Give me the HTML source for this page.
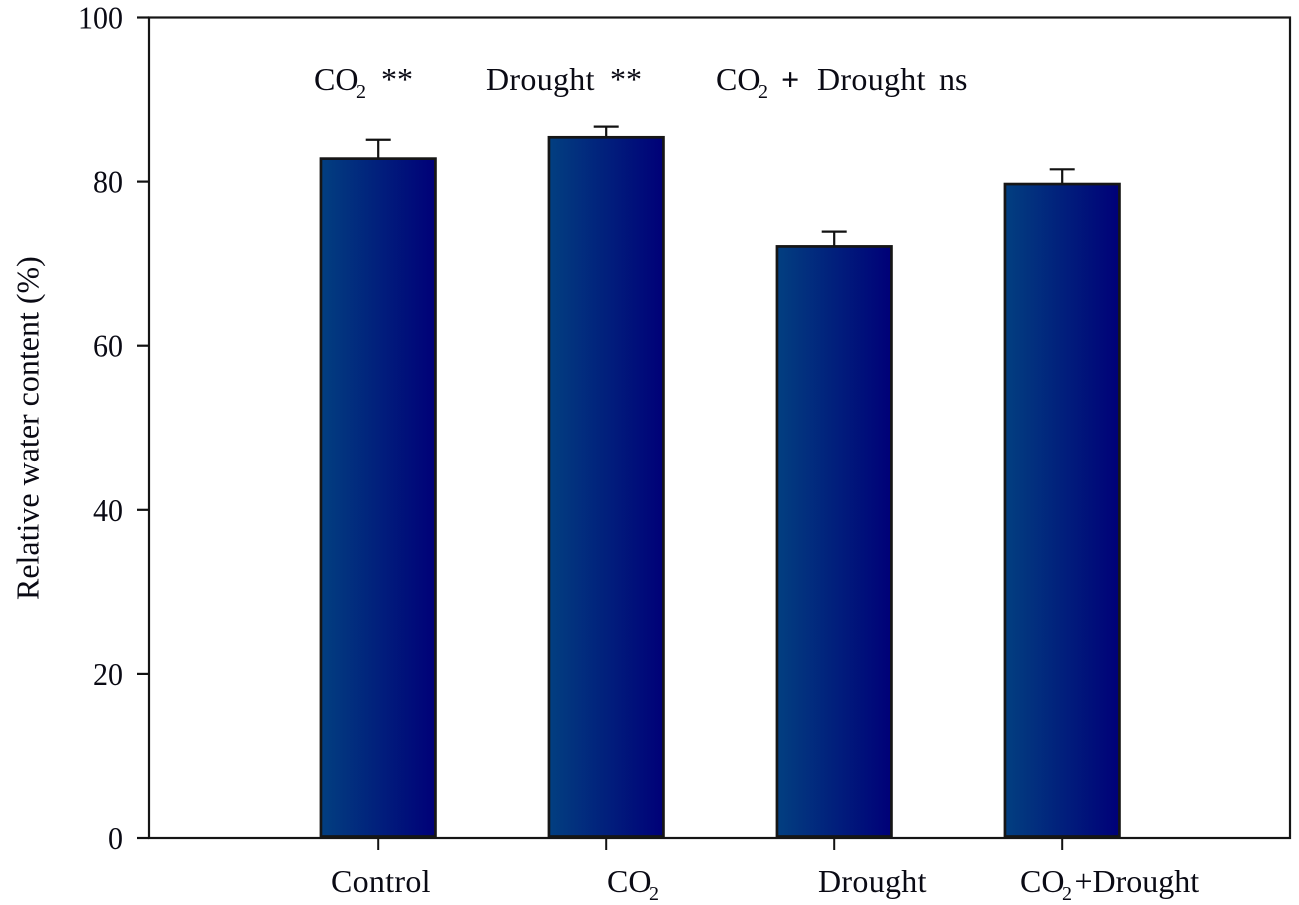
<!DOCTYPE html>
<html>
<head>
<meta charset="utf-8">
<title>Relative water content</title>
<style>
html,body{margin:0;padding:0;background:#fff;}
svg{display:block;}
text{font-family:"Liberation Serif",serif;fill:#0a0a14;}
</style>
</head>
<body>
<svg id="chart" xmlns="http://www.w3.org/2000/svg" width="1299" height="905" viewBox="0 0 1299 905">
  <defs>
    <linearGradient id="barGrad" x1="0" y1="0" x2="1" y2="0">
      <stop offset="0" stop-color="#023f80"/>
      <stop offset="1" stop-color="#000078"/>
    </linearGradient>
  </defs>
  <g id="marks"></g>
  <g id="axes"></g>
  <text transform="translate(38.5,600) rotate(-90)" font-size="32">Relative water content (%)</text>
  <text x="314" y="90" font-size="32">CO<tspan font-size="20" dy="8" dx="-2.5">2</tspan><tspan dy="-8" x="381">**</tspan></text>
  <text x="486" y="90" font-size="32"><tspan textLength="108.5" lengthAdjust="spacing">Drought</tspan><tspan x="610">**</tspan></text>
  <text x="716" y="90" font-size="32">CO<tspan font-size="20" dy="8" dx="-2.5">2</tspan><tspan dy="-8" x="781" font-weight="bold">+</tspan><tspan x="817" textLength="108.5" lengthAdjust="spacing">Drought</tspan><tspan x="939">ns</tspan></text>
</svg>
<script>
const categories = ['Control', 'CO2', 'Drought', 'CO2+Drought'];
const values = [82.8, 85.4, 72.1, 79.7];
const errors = [2.3, 1.3, 1.8, 1.8];
const yTicks = [0, 20, 40, 60, 80, 100];

const NS = 'http://www.w3.org/2000/svg';
const plot = { left: 149, right: 1290, top: 17.5, bottom: 838 };
const yScale = v => plot.bottom - (v / 100) * (plot.bottom - plot.top);
const xScale = i => 378.2 + i * 228;
const labelStart = i => [331, 607, 818, 1020][i];
const barWidth = 114.5;
const marks = document.getElementById('marks');
const axes = document.getElementById('axes');

function mk(tag, attrs, parent) {
  const el = document.createElementNS(NS, tag);
  for (const k in attrs) el.setAttribute(k, attrs[k]);
  parent.appendChild(el);
  return el;
}

categories.forEach((cat, i) => {
  const cx = xScale(i);
  const slug = cat.toLowerCase().replace('+', '-plus-');
  const top = yScale(values[i]);
  const errTop = yScale(values[i] + errors[i]);

  const stem = mk('line', { x1: cx, x2: cx, y1: errTop, y2: top, stroke: '#111', 'stroke-width': 2.2 }, marks);
  
  

  const cap = mk('line', { x1: cx - 12.5, x2: cx + 12.5, y1: errTop, y2: errTop, stroke: '#111', 'stroke-width': 2.2 }, marks);
  
  

  const bar = mk('rect', { x: cx - barWidth / 2, y: top, width: barWidth, height: plot.bottom - top - 1.5, fill: 'url(#barGrad)', stroke: '#161616', 'stroke-width': 2.7 }, marks);
  
  

  const tick = mk('line', { x1: cx, x2: cx, y1: plot.bottom, y2: plot.bottom + 12, stroke: '#111', 'stroke-width': 2 }, axes);
  
  

  const label = mk('text', { x: labelStart(i), y: 892, 'font-size': 32 }, axes);
  
  
  const parts = cat.split('2');
  if (parts.length === 1) {
    label.setAttribute('textLength', cat === 'Control' ? 99.5 : 108.5);
    label.setAttribute('lengthAdjust', 'spacing');
    label.textContent = cat;
  } else {
    label.appendChild(document.createTextNode(parts[0]));
    mk('tspan', { 'font-size': 20, dy: 8, dx: -2.5 }, label).textContent = '2';
    if (parts[1]) {
      mk('tspan', { dy: -8, dx: 2.5 }, label).textContent = parts[1];
    }
  }
});

const frame = mk('rect', { x: plot.left, y: plot.top, width: plot.right - plot.left, height: plot.bottom - plot.top, fill: 'none', stroke: '#151515', 'stroke-width': 2.2 }, axes);



yTicks.forEach(t => {
  const y = yScale(t);
  const tick = mk('line', { x1: plot.left - 12, x2: plot.left, y1: y, y2: y, stroke: '#111', 'stroke-width': 2.2 }, axes);
  
  

  const s = String(t);
  const label = mk('text', { x: 123, y: y + 11, 'text-anchor': 'end', 'font-size': 32, textLength: s.length * 15, lengthAdjust: 'spacingAndGlyphs' }, axes);
  
  
  label.textContent = s;
});
</script>
</body>
</html>
